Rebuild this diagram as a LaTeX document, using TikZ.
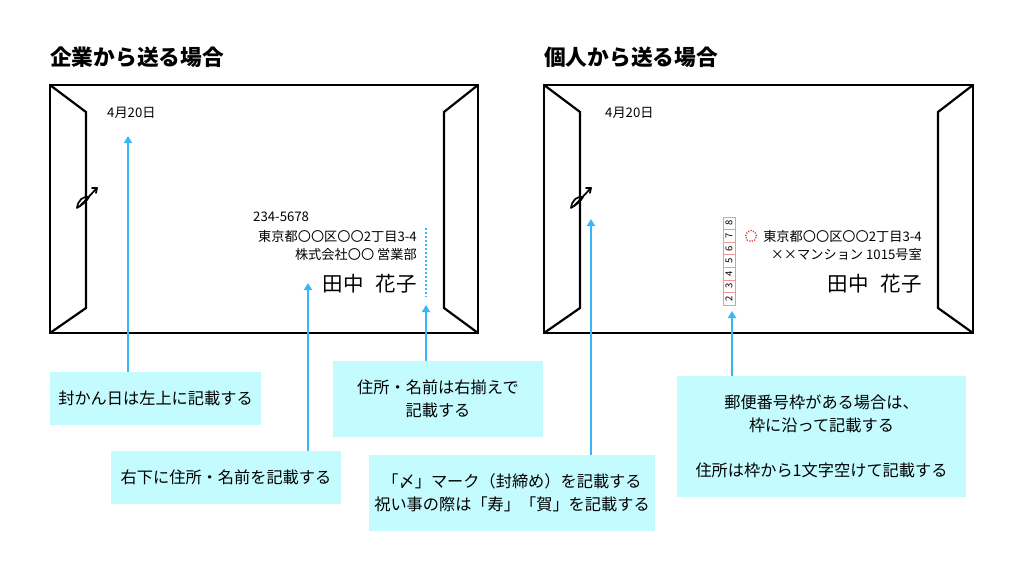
\documentclass[tikz,border=0pt]{standalone}
\usepackage{fontspec}
\setmainfont{Noto Sans CJK JP}
\usetikzlibrary{arrows.meta}
\definecolor{boxfill}{RGB}{196,251,255}
\definecolor{arrowblue}{RGB}{56,182,245}
\definecolor{pcred}{RGB}{240,150,150}
\definecolor{ringred}{RGB}{232,50,50}
\begin{document}
\begin{tikzpicture}[x=1pt,y=-1pt,
  env/.style={line width=2.2pt, line join=miter},
  arr/.style={draw=arrowblue, line width=2pt, -{Triangle[width=8pt,length=7pt]}},
  note/.style={fill=boxfill, inner sep=0pt, align=center, font=\fontsize{16.2}{23}\selectfont},
  small/.style={inner sep=0pt, font=\fontsize{13.2}{15}\selectfont},
  bigname/.style={inner sep=0pt, font=\fontsize{20.5}{24}\selectfont},
  heading/.style={inner sep=0pt, anchor=west, font=\bfseries\fontsize{21.7}{24}\selectfont},
  pccell/.style={draw=pcred, line width=0.7pt, inner sep=0pt, minimum width=12.57pt, minimum height=12pt, font=\fontsize{9.5}{10}\selectfont, rotate=90},
  shime/.pic={
    \draw[line width=1.7pt, line cap=round, line join=round]
      (-9,12) .. controls (-8,4) and (-3,0) .. (3,1)
      .. controls (1,5) and (-4,9) .. (-9,12);
    \draw[line width=1.7pt, line cap=round, line join=round]
      (-6,10) -- (11,-8);
    \draw[line width=1.7pt, line cap=round, line join=round]
      (6,-8) -- (11,-8) -- (10,-3);
  }]
\useasboundingbox (0,0) rectangle (1024,576);

% titles
\node[heading] (title1) at (50,57) {企業から送る場合};
\node[heading] (title2) at (544,57) {個人から送る場合};

% left envelope
\draw[env] (50,85) rectangle (478,333);
\draw[env] (50,85) -- (86,112) -- (86,308) -- (50,333);
\draw[env] (478,85) -- (444,112) -- (444,308) -- (478,333);
\pic at (86,196) {shime};

% right envelope
\draw[env] (544,85) rectangle (973,333);
\draw[env] (544,85) -- (580,112) -- (580,308) -- (544,333);
\draw[env] (973,85) -- (938,112) -- (938,308) -- (973,333);
\pic at (580,196) {shime};

% left envelope texts
\node[small, anchor=west] (date1) at (107,113) {4月20日};
\node[small, anchor=west] (zip1) at (253,217) {234-5678};
\node[small, anchor=east] (addr1) at (417,236) {東京都〇〇区〇〇2丁目3-4};
\node[small, anchor=east] (co1) at (417,254) {株式会社〇〇\ 営業部};
\node[bigname, anchor=east] (nm1) at (417,284) {田中\hspace{0.6em}花子};
\draw[arrowblue, line width=2pt, dash pattern=on 2pt off 2pt] (426,228) -- (426,297);

% right envelope texts
\node[small, anchor=west] (date2) at (605,113) {4月20日};
\node[small, anchor=east] (addr2) at (922,236) {東京都〇〇区〇〇2丁目3-4};
\node[small, anchor=east] (bld2) at (922,254) {××マンション 1015号室};
\node[bigname, anchor=east] (nm2) at (922,284) {田中\hspace{0.6em}花子};
\foreach \d [count=\i from 0] in {8,7,6,5,4,3,2} {
  \node[pccell] (pc\d) at (729,223.3+12.57*\i) {\d};
}
\node[circle, draw=ringred, line width=1.3pt, dash pattern=on 1.2pt off 1.4pt, minimum size=11pt, inner sep=0pt] (ring) at (751,236) {};

% note boxes
\node[note, minimum width=211pt, minimum height=53pt] (b1) at (155.5,398.5) {封かん日は左上に記載する};
\node[note, minimum width=230pt, minimum height=53pt] (b2) at (226,477.5) {右下に住所・名前を記載する};
\node[note, minimum width=210pt, minimum height=76pt] (b3) at (438,399) {住所・名前は右揃えで\\記載する};
\node[note, minimum width=286pt, minimum height=76pt] (b4) at (512,493) {「〆」マーク（封締め）を記載する\\祝い事の際は「寿」「賀」を記載する};
\node[note, minimum width=289pt, minimum height=121pt] (b5) at (821.5,436.5) {郵便番号枠がある場合は、\\枠に沿って記載する\\[22pt]住所は枠から1文字空けて記載する};

% connectors
\coordinate (t1) at (128,136);
\coordinate (t2) at (308,283);
\coordinate (t3) at (426,305);
\coordinate (t4) at (591,219);
\coordinate (t5) at (732,311);
\draw[arr] (t1 |- b1.north) -- (t1);
\draw[arr] (t2 |- b2.north) -- (t2);
\draw[arr] (t3 |- b3.north) -- (t3);
\draw[arr] (t4 |- b4.north) -- (t4);
\draw[arr] (t5 |- b5.north) -- (t5);
\end{tikzpicture}
\end{document}
